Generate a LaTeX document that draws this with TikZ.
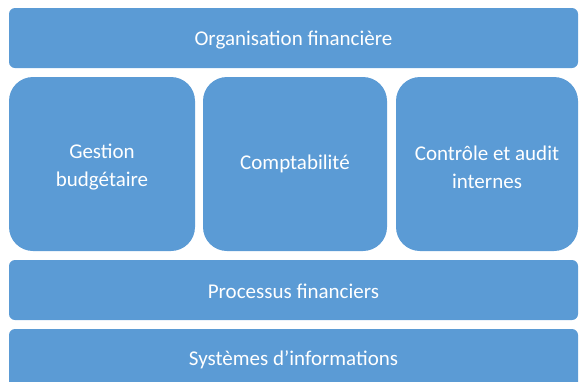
\documentclass[tikz,border=0pt]{standalone}
\usepackage{fontspec}
\setmainfont{Carlito}
\definecolor{boxblue}{HTML}{5B9BD5}
\begin{document}
\begin{tikzpicture}[x=1pt,y=-1pt,
  bar/.style={fill=boxblue,draw=none,rounded corners=6pt},
  tall/.style={fill=boxblue,draw=none,rounded corners=24pt},
  lbl/.style={text=white,font=\fontsize{21}{28}\selectfont,align=center,inner sep=0pt}]
\useasboundingbox (0,0) rectangle (579,381);
\begin{scope}
\clip (0,0) rectangle (579,381);
\fill[bar] (9,8) rectangle (578,68);
\fill[tall] (9,77) rectangle (195,251);
\fill[tall] (203,77) rectangle (387,251);
\fill[tall] (396,77) rectangle (578,251);
\fill[bar] (9,260) rectangle (578,320);
\fill[bar] (9,329) rectangle (578,389);
\end{scope}
\node[lbl] (org) at (293.5,40) {Organisation financière};
\node[lbl] (gest) at (102,167.5) {Gestion\\budgétaire};
\node[lbl] (compta) at (295,164) {Comptabilité};
\node[lbl] (ctrl) at (487,167) {Contrôle et audit\\internes};
\node[lbl] (proc) at (293.5,291.5) {Processus financiers};
\node[lbl] (sys) at (293.5,359.5) {Systèmes d’informations};
\end{tikzpicture}
\end{document}
